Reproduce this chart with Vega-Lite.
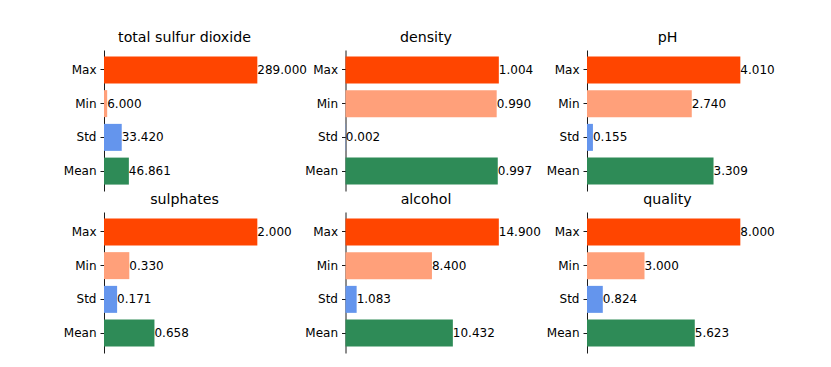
{
  "$schema": "https://vega.github.io/schema/vega-lite/v6.json",
  "padding": {"left": 63, "top": 30, "right": 5, "bottom": 5},
  "background": "white",
  "datasets": {
    "stats": [
      {"feature": "total sulfur dioxide", "stat": "Max", "value": 289.0},
      {"feature": "total sulfur dioxide", "stat": "Min", "value": 6.0},
      {"feature": "total sulfur dioxide", "stat": "Std", "value": 33.42},
      {"feature": "total sulfur dioxide", "stat": "Mean", "value": 46.861},
      {"feature": "density", "stat": "Max", "value": 1.004},
      {"feature": "density", "stat": "Min", "value": 0.990},
      {"feature": "density", "stat": "Std", "value": 0.002},
      {"feature": "density", "stat": "Mean", "value": 0.997},
      {"feature": "pH", "stat": "Max", "value": 4.010},
      {"feature": "pH", "stat": "Min", "value": 2.740},
      {"feature": "pH", "stat": "Std", "value": 0.155},
      {"feature": "pH", "stat": "Mean", "value": 3.309},
      {"feature": "sulphates", "stat": "Max", "value": 2.000},
      {"feature": "sulphates", "stat": "Min", "value": 0.330},
      {"feature": "sulphates", "stat": "Std", "value": 0.171},
      {"feature": "sulphates", "stat": "Mean", "value": 0.658},
      {"feature": "alcohol", "stat": "Max", "value": 14.9},
      {"feature": "alcohol", "stat": "Min", "value": 8.4},
      {"feature": "alcohol", "stat": "Std", "value": 1.083},
      {"feature": "alcohol", "stat": "Mean", "value": 10.432},
      {"feature": "quality", "stat": "Max", "value": 8.0},
      {"feature": "quality", "stat": "Min", "value": 3.0},
      {"feature": "quality", "stat": "Std", "value": 0.824},
      {"feature": "quality", "stat": "Mean", "value": 5.623}
    ]
  },
  "columns": 3,
  "spacing": {"row": 21, "column": 80.5},
  "bounds": "flush",
  "concat": [
    {
      "width": 161, "height": 141,
      "title": "total sulfur dioxide",
      "data": {"name": "stats"},
      "transform": [{"filter": "datum.feature === 'total sulfur dioxide'"}],
      "encoding": {
        "y": {"field": "stat", "type": "nominal", "sort": ["Max", "Min", "Std", "Mean"], "scale": {"paddingInner": 0.2, "paddingOuter": 0.19}, "axis": {"title": null}},
        "x": {"field": "value", "type": "quantitative", "scale": {"domain": [0, 303.45], "nice": false}, "axis": null}
      },
      "layer": [
        {"mark": {"type": "bar"}, "encoding": {"color": {"field": "stat", "type": "nominal", "scale": {"domain": ["Max", "Min", "Std", "Mean"], "range": ["#FF4500", "#FFA07A", "#6495ED", "#2E8B57"]}, "legend": null}}},
        {"mark": {"type": "text", "align": "left", "baseline": "middle", "dx": 0, "fontSize": 12, "font": "DejaVu Sans", "color": "black"}, "encoding": {"text": {"field": "value", "type": "quantitative", "format": ".3f"}}}
      ]
    },
    {
      "width": 161, "height": 141,
      "title": "density",
      "data": {"name": "stats"},
      "transform": [{"filter": "datum.feature === 'density'"}],
      "encoding": {
        "y": {"field": "stat", "type": "nominal", "sort": ["Max", "Min", "Std", "Mean"], "scale": {"paddingInner": 0.2, "paddingOuter": 0.19}, "axis": {"title": null}},
        "x": {"field": "value", "type": "quantitative", "scale": {"domain": [0, 1.0542], "nice": false}, "axis": null}
      },
      "layer": [
        {"mark": {"type": "bar"}, "encoding": {"color": {"field": "stat", "type": "nominal", "scale": {"domain": ["Max", "Min", "Std", "Mean"], "range": ["#FF4500", "#FFA07A", "#6495ED", "#2E8B57"]}, "legend": null}}},
        {"mark": {"type": "text", "align": "left", "baseline": "middle", "dx": 0, "fontSize": 12, "font": "DejaVu Sans", "color": "black"}, "encoding": {"text": {"field": "value", "type": "quantitative", "format": ".3f"}}}
      ]
    },
    {
      "width": 161, "height": 141,
      "title": "pH",
      "data": {"name": "stats"},
      "transform": [{"filter": "datum.feature === 'pH'"}],
      "encoding": {
        "y": {"field": "stat", "type": "nominal", "sort": ["Max", "Min", "Std", "Mean"], "scale": {"paddingInner": 0.2, "paddingOuter": 0.19}, "axis": {"title": null}},
        "x": {"field": "value", "type": "quantitative", "scale": {"domain": [0, 4.2105], "nice": false}, "axis": null}
      },
      "layer": [
        {"mark": {"type": "bar"}, "encoding": {"color": {"field": "stat", "type": "nominal", "scale": {"domain": ["Max", "Min", "Std", "Mean"], "range": ["#FF4500", "#FFA07A", "#6495ED", "#2E8B57"]}, "legend": null}}},
        {"mark": {"type": "text", "align": "left", "baseline": "middle", "dx": 0, "fontSize": 12, "font": "DejaVu Sans", "color": "black"}, "encoding": {"text": {"field": "value", "type": "quantitative", "format": ".3f"}}}
      ]
    },
    {
      "width": 161, "height": 141,
      "title": "sulphates",
      "data": {"name": "stats"},
      "transform": [{"filter": "datum.feature === 'sulphates'"}],
      "encoding": {
        "y": {"field": "stat", "type": "nominal", "sort": ["Max", "Min", "Std", "Mean"], "scale": {"paddingInner": 0.2, "paddingOuter": 0.19}, "axis": {"title": null}},
        "x": {"field": "value", "type": "quantitative", "scale": {"domain": [0, 2.1], "nice": false}, "axis": null}
      },
      "layer": [
        {"mark": {"type": "bar"}, "encoding": {"color": {"field": "stat", "type": "nominal", "scale": {"domain": ["Max", "Min", "Std", "Mean"], "range": ["#FF4500", "#FFA07A", "#6495ED", "#2E8B57"]}, "legend": null}}},
        {"mark": {"type": "text", "align": "left", "baseline": "middle", "dx": 0, "fontSize": 12, "font": "DejaVu Sans", "color": "black"}, "encoding": {"text": {"field": "value", "type": "quantitative", "format": ".3f"}}}
      ]
    },
    {
      "width": 161, "height": 141,
      "title": "alcohol",
      "data": {"name": "stats"},
      "transform": [{"filter": "datum.feature === 'alcohol'"}],
      "encoding": {
        "y": {"field": "stat", "type": "nominal", "sort": ["Max", "Min", "Std", "Mean"], "scale": {"paddingInner": 0.2, "paddingOuter": 0.19}, "axis": {"title": null}},
        "x": {"field": "value", "type": "quantitative", "scale": {"domain": [0, 15.645], "nice": false}, "axis": null}
      },
      "layer": [
        {"mark": {"type": "bar"}, "encoding": {"color": {"field": "stat", "type": "nominal", "scale": {"domain": ["Max", "Min", "Std", "Mean"], "range": ["#FF4500", "#FFA07A", "#6495ED", "#2E8B57"]}, "legend": null}}},
        {"mark": {"type": "text", "align": "left", "baseline": "middle", "dx": 0, "fontSize": 12, "font": "DejaVu Sans", "color": "black"}, "encoding": {"text": {"field": "value", "type": "quantitative", "format": ".3f"}}}
      ]
    },
    {
      "width": 161, "height": 141,
      "title": "quality",
      "data": {"name": "stats"},
      "transform": [{"filter": "datum.feature === 'quality'"}],
      "encoding": {
        "y": {"field": "stat", "type": "nominal", "sort": ["Max", "Min", "Std", "Mean"], "scale": {"paddingInner": 0.2, "paddingOuter": 0.19}, "axis": {"title": null}},
        "x": {"field": "value", "type": "quantitative", "scale": {"domain": [0, 8.4], "nice": false}, "axis": null}
      },
      "layer": [
        {"mark": {"type": "bar"}, "encoding": {"color": {"field": "stat", "type": "nominal", "scale": {"domain": ["Max", "Min", "Std", "Mean"], "range": ["#FF4500", "#FFA07A", "#6495ED", "#2E8B57"]}, "legend": null}}},
        {"mark": {"type": "text", "align": "left", "baseline": "middle", "dx": 0, "fontSize": 12, "font": "DejaVu Sans", "color": "black"}, "encoding": {"text": {"field": "value", "type": "quantitative", "format": ".3f"}}}
      ]
    }
  ],
  "config": {
    "view": {"stroke": null},
    "font": "DejaVu Sans",
    "title": {"fontSize": 14.2, "fontWeight": "normal", "font": "DejaVu Sans", "color": "black", "anchor": "middle", "offset": 5},
    "axis": {
      "domainColor": "black", "domainWidth": 0.9, "tickColor": "black", "tickWidth": 0.9, "tickSize": 4,
      "labelFontSize": 12, "labelFont": "DejaVu Sans", "labelColor": "black", "labelPadding": 4, "grid": false
    }
  }
}
